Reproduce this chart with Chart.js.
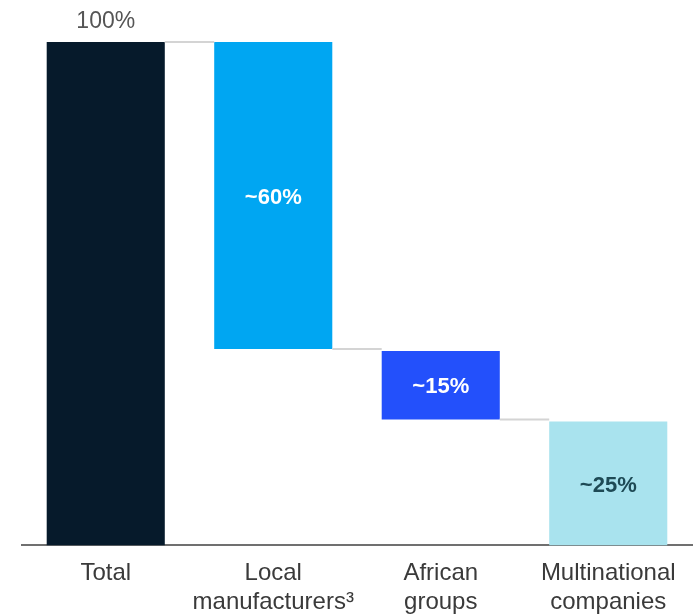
<!DOCTYPE html>
<html>
<head>
<meta charset="utf-8">
<script src="https://cdn.jsdelivr.net/npm/chart.js@4"></script>
<style>
html,body{margin:0;padding:0;background:#fff;}
#wrap{width:693px;height:614px;position:relative;}
</style>
</head>
<body>
<div id="wrap"><canvas id="c" width="693" height="614"></canvas></div>
<script>
const categories = [["Total"], ["Local", "manufacturers\u00B3"], ["African", "groups"], ["Multinational", "companies"]];
const barStart = [0, 39, 25, 0];
const barEnd = [100, 100, 38.6, 24.6];
const valueLabels = ["100%", "~60%", "~15%", "~25%"];

const barColors = ["#061a2b", "#00a6f2", "#2350fb", "#a9e3ee"];
const labelColors = ["#555555", "#ffffff", "#ffffff", "#1e4a55"];

const floating = barStart.map((s, i) => [s, barEnd[i]]);
const FONT = "'Liberation Sans', Arial, sans-serif";

const waterfallPlugin = {
  id: "waterfall",
  afterDatasetsDraw(chart) {
    const ctx = chart.ctx;
    const meta = chart.getDatasetMeta(0);
    const y = chart.scales.y;
    ctx.save();
    ctx.strokeStyle = "#d4d4d4";
    ctx.lineWidth = 2;
    for (let i = 0; i < meta.data.length - 1; i++) {
      const a = meta.data[i], b = meta.data[i + 1];
      const lvl = i === 0 ? y.getPixelForValue(barEnd[i]) : y.getPixelForValue(barStart[i]);
      ctx.beginPath();
      ctx.moveTo(a.x + a.width / 2, lvl);
      ctx.lineTo(b.x - b.width / 2, lvl);
      ctx.stroke();
    }
    ctx.textAlign = "center";
    ctx.textBaseline = "middle";
    meta.data.forEach((bar, i) => {
      ctx.fillStyle = labelColors[i];
      const top = y.getPixelForValue(barEnd[i]);
      const bot = y.getPixelForValue(barStart[i]);
      if (i === 0) {
        ctx.font = "23px " + FONT;
        ctx.fillText(valueLabels[i], bar.x, top - 20);
      } else {
        ctx.font = "bold 22px " + FONT;
        ctx.fillText(valueLabels[i], bar.x, (top + bot) / 2 + 2);
      }
    });
    ctx.restore();
  }
};

new Chart(document.getElementById("c"), {
  type: "bar",
  data: {
    labels: categories,
    datasets: [{
      data: floating,
      backgroundColor: barColors,
      borderWidth: 0,
      categoryPercentage: 1,
      barPercentage: 0.705
    }]
  },
  options: {
    responsive: false,
    animation: false,
    layout: { padding: { left: 22, right: 1, top: 42, bottom: -17 } },
    plugins: { legend: { display: false }, tooltip: { enabled: false } },
    scales: {
      x: {
        grid: { display: false, drawTicks: false },
        border: { display: true, color: "#707070", width: 2 },
        ticks: {
          color: "#3a3a3a",
          padding: 14,
          maxRotation: 0,
          autoSkip: false,
          font: { family: FONT, size: 24, lineHeight: 1.2 }
        }
      },
      y: {
        display: false,
        min: 0,
        max: 100
      }
    }
  },
  plugins: [waterfallPlugin]
});
</script>
</body>
</html>
